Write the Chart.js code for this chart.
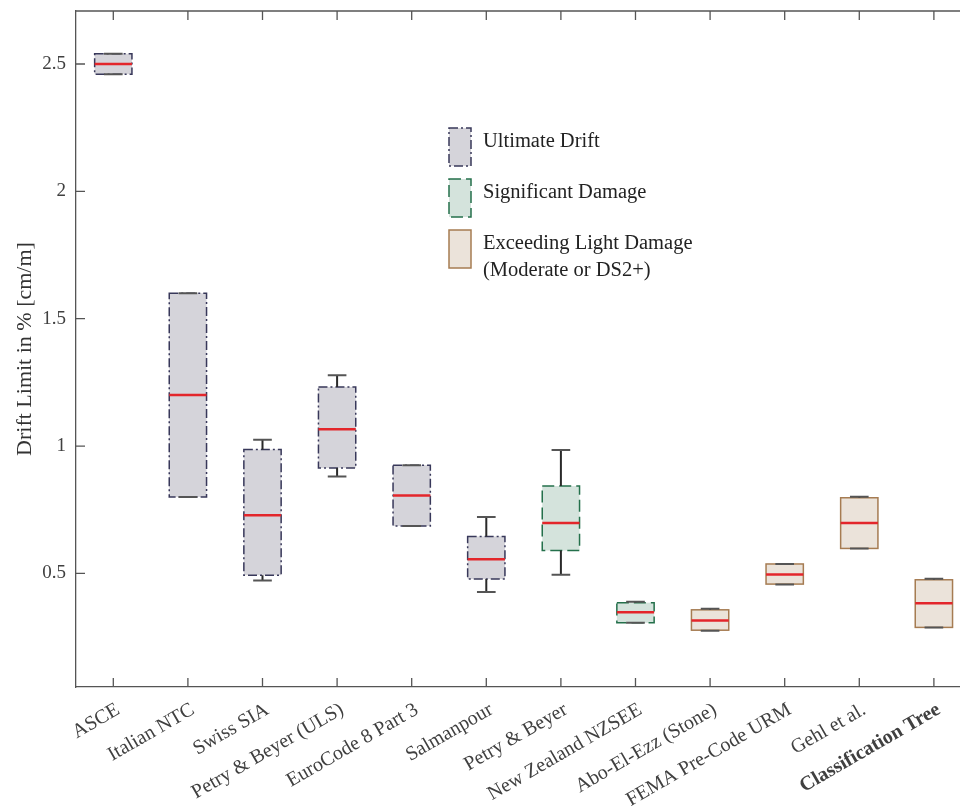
<!DOCTYPE html>
<html>
<head>
<meta charset="utf-8">
<script src="https://cdn.jsdelivr.net/npm/chart.js@4.4.0/dist/chart.umd.min.js"></script>
<style>
  body { margin: 0; background: #fff; }
  #wrap { width: 960px; height: 809px; position: relative; }
</style>
</head>
<body>
<div id="wrap"><canvas id="myChart"></canvas></div>
<script>
// categories and box values
var categories = ['ASCE', 'Italian NTC', 'Swiss SIA', 'Petry & Beyer (ULS)', 'EuroCode 8 Part 3',
  'Salmanpour', 'Petry & Beyer', 'New Zealand NZSEE', 'Abo-El-Ezz (Stone)', 'FEMA Pre-Code URM',
  'Gehl et al.', 'Classification Tree'];
var groups = [0, 0, 0, 0, 0, 0, 1, 1, 2, 2, 2, 2];
var whiskerLow  = [2.46, 0.80, 0.472, 0.880, 0.686, 0.427, 0.495, 0.306, 0.275, 0.456, 0.598, 0.288];
var q1          = [2.46, 0.80, 0.493, 0.914, 0.686, 0.478, 0.590, 0.306, 0.277, 0.458, 0.598, 0.288];
var median      = [2.50, 1.20, 0.728, 1.066, 0.806, 0.556, 0.698, 0.347, 0.315, 0.496, 0.698, 0.383];
var q3          = [2.54, 1.60, 0.986, 1.232, 0.925, 0.645, 0.843, 0.385, 0.357, 0.537, 0.797, 0.475];
var whiskerHigh = [2.54, 1.60, 1.025, 1.278, 0.925, 0.721, 0.984, 0.389, 0.361, 0.537, 0.801, 0.479];
var yTicks = [0.5, 1, 1.5, 2, 2.5];
var legendLabels = [['Ultimate Drift'], ['Significant Damage'], ['Exceeding Light Damage', '(Moderate or DS2+)']];

var styles = [
  { fill: '#d5d4da', stroke: '#38385a', dash: [9, 3, 2, 3] },
  { fill: '#d4e3dc', stroke: '#24704b', dash: [12, 5] },
  { fill: '#ebe3da', stroke: '#a67c52', dash: [] }
];
var font = 'Liberation Serif';

var boxPlugin = {
  id: 'boxes',
  afterDatasetsDraw: function(chart) {
    var ctx = chart.ctx, x = chart.scales.x, y = chart.scales.y, a = chart.chartArea;
    ctx.save();
    ctx.beginPath();
    ctx.rect(a.left, a.top, a.right - a.left, a.bottom - a.top);
    ctx.clip();
    categories.forEach(function(c, i) {
      var st = styles[groups[i]];
      var xc = x.getPixelForValue(i + 1);
      var xl = x.getPixelForValue(i + 1 - 0.25), xr = x.getPixelForValue(i + 1 + 0.25);
      var cl = x.getPixelForValue(i + 1 - 0.125), cr = x.getPixelForValue(i + 1 + 0.125);
      var yq1 = y.getPixelForValue(q1[i]), yq3 = y.getPixelForValue(q3[i]);
      var ylo = y.getPixelForValue(whiskerLow[i]), yhi = y.getPixelForValue(whiskerHigh[i]);
      var ym = y.getPixelForValue(median[i]);
      // box
      ctx.fillStyle = st.fill;
      ctx.fillRect(xl, yq3, xr - xl, yq1 - yq3);
      ctx.strokeStyle = st.stroke;
      ctx.lineWidth = 1.5;
      ctx.setLineDash(st.dash);
      ctx.strokeRect(xl, yq3, xr - xl, yq1 - yq3);
      // whiskers
      ctx.setLineDash([]);
      ctx.strokeStyle = '#2a2a2a';
      ctx.lineWidth = 2;
      ctx.beginPath();
      ctx.moveTo(xc, yq3); ctx.lineTo(xc, yhi);
      ctx.moveTo(xc, yq1); ctx.lineTo(xc, ylo);
      ctx.stroke();
      ctx.strokeStyle = '#555';
      ctx.beginPath();
      ctx.moveTo(cl, yhi); ctx.lineTo(cr, yhi);
      ctx.moveTo(cl, ylo); ctx.lineTo(cr, ylo);
      ctx.stroke();
      // median
      ctx.strokeStyle = '#e3262b';
      ctx.lineWidth = 2.5;
      ctx.beginPath();
      ctx.moveTo(xl, ym); ctx.lineTo(xr, ym);
      ctx.stroke();
    });
    ctx.restore();

    // top border and inward ticks
    ctx.save();
    ctx.strokeStyle = '#555';
    ctx.lineWidth = 1.3;
    ctx.beginPath();
    ctx.moveTo(a.left, a.top); ctx.lineTo(a.right, a.top);
    categories.forEach(function(c, i) {
      var xc = x.getPixelForValue(i + 1);
      ctx.moveTo(xc, a.bottom); ctx.lineTo(xc, a.bottom - 9);
      ctx.moveTo(xc, a.top); ctx.lineTo(xc, a.top + 9);
    });
    yTicks.forEach(function(v) {
      var yv = y.getPixelForValue(v);
      ctx.moveTo(a.left, yv); ctx.lineTo(a.left + 9, yv);
    });
    ctx.stroke();
    ctx.restore();
  },
  afterDraw: function(chart) {
    var ctx = chart.ctx;
    var tops = [128, 179, 230];
    ctx.save();
    ctx.font = '20.5px "' + font + '"';
    ctx.textBaseline = 'alphabetic';
    legendLabels.forEach(function(lines, k) {
      var st = styles[k];
      ctx.fillStyle = st.fill;
      ctx.fillRect(449, tops[k], 22, 38);
      ctx.strokeStyle = st.stroke;
      ctx.lineWidth = 1.5;
      ctx.setLineDash(st.dash);
      ctx.strokeRect(449, tops[k], 22, 38);
      ctx.setLineDash([]);
      ctx.fillStyle = '#222';
      lines.forEach(function(t, j) {
        ctx.fillText(t, 483, tops[k] + 19 + j * 27);
      });
    });
    ctx.restore();
  }
};

var ctx = document.getElementById('myChart').getContext('2d');
var chart = new Chart(ctx, {
  type: 'scatter',
  data: {
    datasets: [{
      data: median.map(function(m, i) { return { x: i + 1, y: m }; }),
      pointRadius: 0,
      pointHoverRadius: 0
    }]
  },
  options: {
    responsive: true,
    maintainAspectRatio: false,
    animation: false,
    events: [],
    layout: { padding: { top: 11, left: 0, right: -4, bottom: 0 } },
    plugins: { legend: { display: false }, tooltip: { enabled: false } },
    scales: {
      x: {
        type: 'linear',
        min: 0.5,
        max: 12.35,
        grid: { display: false, drawTicks: false },
        border: { display: true, color: '#555', width: 1.3 },
        afterBuildTicks: function(scale) {
          scale.ticks = categories.map(function(c, i) { return { value: i + 1 }; });
        },
        afterFit: function(scale) { scale.height = 122; },
        ticks: {
          autoSkip: false,
          minRotation: 30,
          maxRotation: 30,
          padding: 11,
          labelOffset: 5,
          color: '#404040',
          font: function(c) {
            return { family: font, size: 20, weight: c.tick && c.tick.value === 12 ? 'bold' : 'normal' };
          },
          callback: function(v) { return categories[v - 1]; }
        }
      },
      y: {
        min: 0.054,
        max: 2.708,
        grid: { display: false, drawTicks: false },
        border: { display: true, color: '#555', width: 1.3 },
        afterBuildTicks: function(scale) {
          scale.ticks = yTicks.map(function(v) { return { value: v }; });
        },
        afterFit: function(scale) {
          scale.width = 76;
          scale.paddingTop = 0;
          scale.paddingBottom = 0;
        },
        ticks: {
          padding: 10,
          color: '#404040',
          font: { family: font, size: 19 },
          callback: function(v) { return String(v); }
        },
        title: {
          display: true,
          text: 'Drift Limit in % [cm/m]',
          color: '#333',
          font: { family: font, size: 22 },
          padding: { top: 12, bottom: 0 }
        }
      }
    }
  },
  plugins: [boxPlugin]
});
</script>
</body>
</html>
